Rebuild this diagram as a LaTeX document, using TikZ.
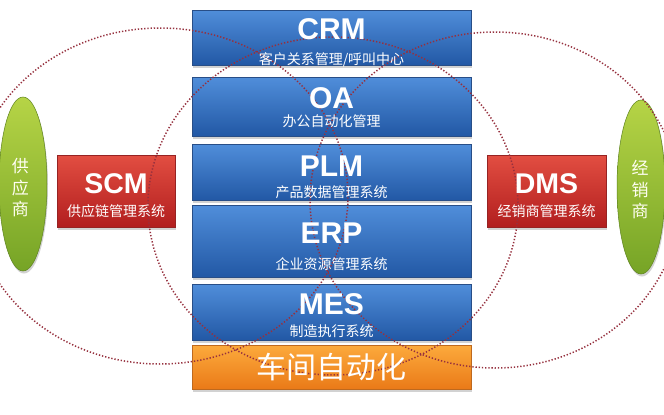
\documentclass[tikz,border=0pt]{standalone}
\usepackage{fontspec}
\setmainfont{Liberation Sans}
\newfontfamily\cjk{Noto Sans CJK SC}
\usetikzlibrary{shadows,shapes.geometric}
\definecolor{blueT}{RGB}{80,142,218}
\definecolor{blueB}{RGB}{34,88,165}
\definecolor{blueE}{RGB}{40,78,135}
\definecolor{redT}{RGB}{226,78,66}
\definecolor{redB}{RGB}{178,30,30}
\definecolor{redE}{RGB}{150,35,35}
\definecolor{orT}{RGB}{252,170,60}
\definecolor{orB}{RGB}{234,122,24}
\definecolor{orE}{RGB}{190,105,30}
\definecolor{grT}{RGB}{182,212,70}
\definecolor{grB}{RGB}{118,164,38}
\definecolor{dotc}{RGB}{150,48,62}
\begin{document}
\begin{tikzpicture}[x=1pt,y=-1pt,
  shad/.style={drop shadow={opacity=0.35,shadow xshift=1pt,shadow yshift=-2.5pt}},
  bluebox/.style={rectangle,draw=blueE,line width=0.6pt,top color=blueT,bottom color=blueB,
    minimum width=279pt,inner sep=0pt,shad},
  orbox/.style={rectangle,draw=orE,line width=0.6pt,top color=orT,bottom color=orB,
    minimum width=279pt,inner sep=0pt,shad},
  redbox/.style={rectangle,draw=redE,line width=0.6pt,top color=redT,bottom color=redB,
    inner sep=0pt,shad},
  greenell/.style={ellipse,draw=grB!80!black,line width=0.5pt,top color=grT,bottom color=grB,
    minimum width=48pt,minimum height=174pt,inner sep=0pt,shad},
  title/.style={text=white,inner sep=0pt,font=\bfseries\fontsize{30}{30}\selectfont},
  stitle/.style={text=white,inner sep=0pt,font=\bfseries\fontsize{28.5}{28.5}\selectfont},
  sub/.style={text=white,inner sep=0pt,font=\cjk\fontsize{14}{14}\selectfont},
  vtext/.style={text=white!95!yellow,inner sep=0pt,align=center,font=\cjk\fontsize{17}{21.5}\selectfont},
  dotline/.style={draw=dotc,line width=1.5pt,dash pattern=on 1.3pt off 1.9pt}]
\useasboundingbox (0,0) rectangle (664,415);
\fill[white] (0,0) rectangle (664,415);
\clip (0,0) rectangle (664,415);

% side ellipses
\node[greenell] (sup) at (23,184) {};
\node[greenell] (dea) at (641,187) {};

% red boxes
\node[redbox,minimum width=118pt,minimum height=72pt] (scmbox) at (116,191) {};
\node[redbox,minimum width=119pt,minimum height=72pt] (dmsbox) at (546.5,191) {};

% stack
\node[bluebox,minimum height=55pt] (crmbox) at (331.5,37.5) {};
\node[bluebox,minimum height=59pt] (oabox) at (331.5,106.5) {};
\node[bluebox,minimum height=56pt] (plmbox) at (331.5,172) {};
\node[bluebox,minimum height=72pt] (erpbox) at (331.5,241) {};
\node[bluebox,minimum height=56pt] (mesbox) at (331.5,312) {};
\node[orbox,minimum height=44pt] (wsbox) at (331.5,367) {};

% dotted ellipses
\coordinate (lc) at (160,196);
\coordinate (cc) at (333,206);
\coordinate (rc) at (495,200);
\draw[dotline] (lc) ellipse [x radius=188pt,y radius=168pt];
\draw[dotline] (cc) ellipse [x radius=185pt,y radius=169pt];
\draw[dotline] (rc) ellipse [x radius=185pt,y radius=168pt];

% texts
\node[vtext] (supt) at (20.5,188) {供\\应\\商};
\node[vtext] (deat) at (640,190) {经\\销\\商};

\node[stitle] (scmt) at (116,184) {SCM};
\node[sub] (scms) at (116,211.5) {供应链管理系统};
\node[stitle] (dmst) at (546.5,184) {DMS};
\node[sub] (dmss) at (546.5,211.5) {经销商管理系统};

\node[title] (crmt) at (331.5,29) {CRM};
\node[sub] (crms) at (331.5,59.5) {客户关系管理/呼叫中心};
\node[title] (oat) at (331.5,98) {OA};
\node[sub] (oas) at (331.5,121.5) {办公自动化管理};
\node[title] (plmt) at (331.5,166) {PLM};
\node[sub] (plms) at (331.5,192) {产品数据管理系统};
\node[title] (erpt) at (331.5,233) {ERP};
\node[sub] (erps) at (331.5,264) {企业资源管理系统};
\node[title] (mest) at (331.5,304) {MES};
\node[sub] (mess) at (331.5,331) {制造执行系统};
\node[text=white,inner sep=0pt,font=\cjk\fontsize{30}{30}\selectfont] (wst) at (331.5,367) {车间自动化};
\end{tikzpicture}
\end{document}
